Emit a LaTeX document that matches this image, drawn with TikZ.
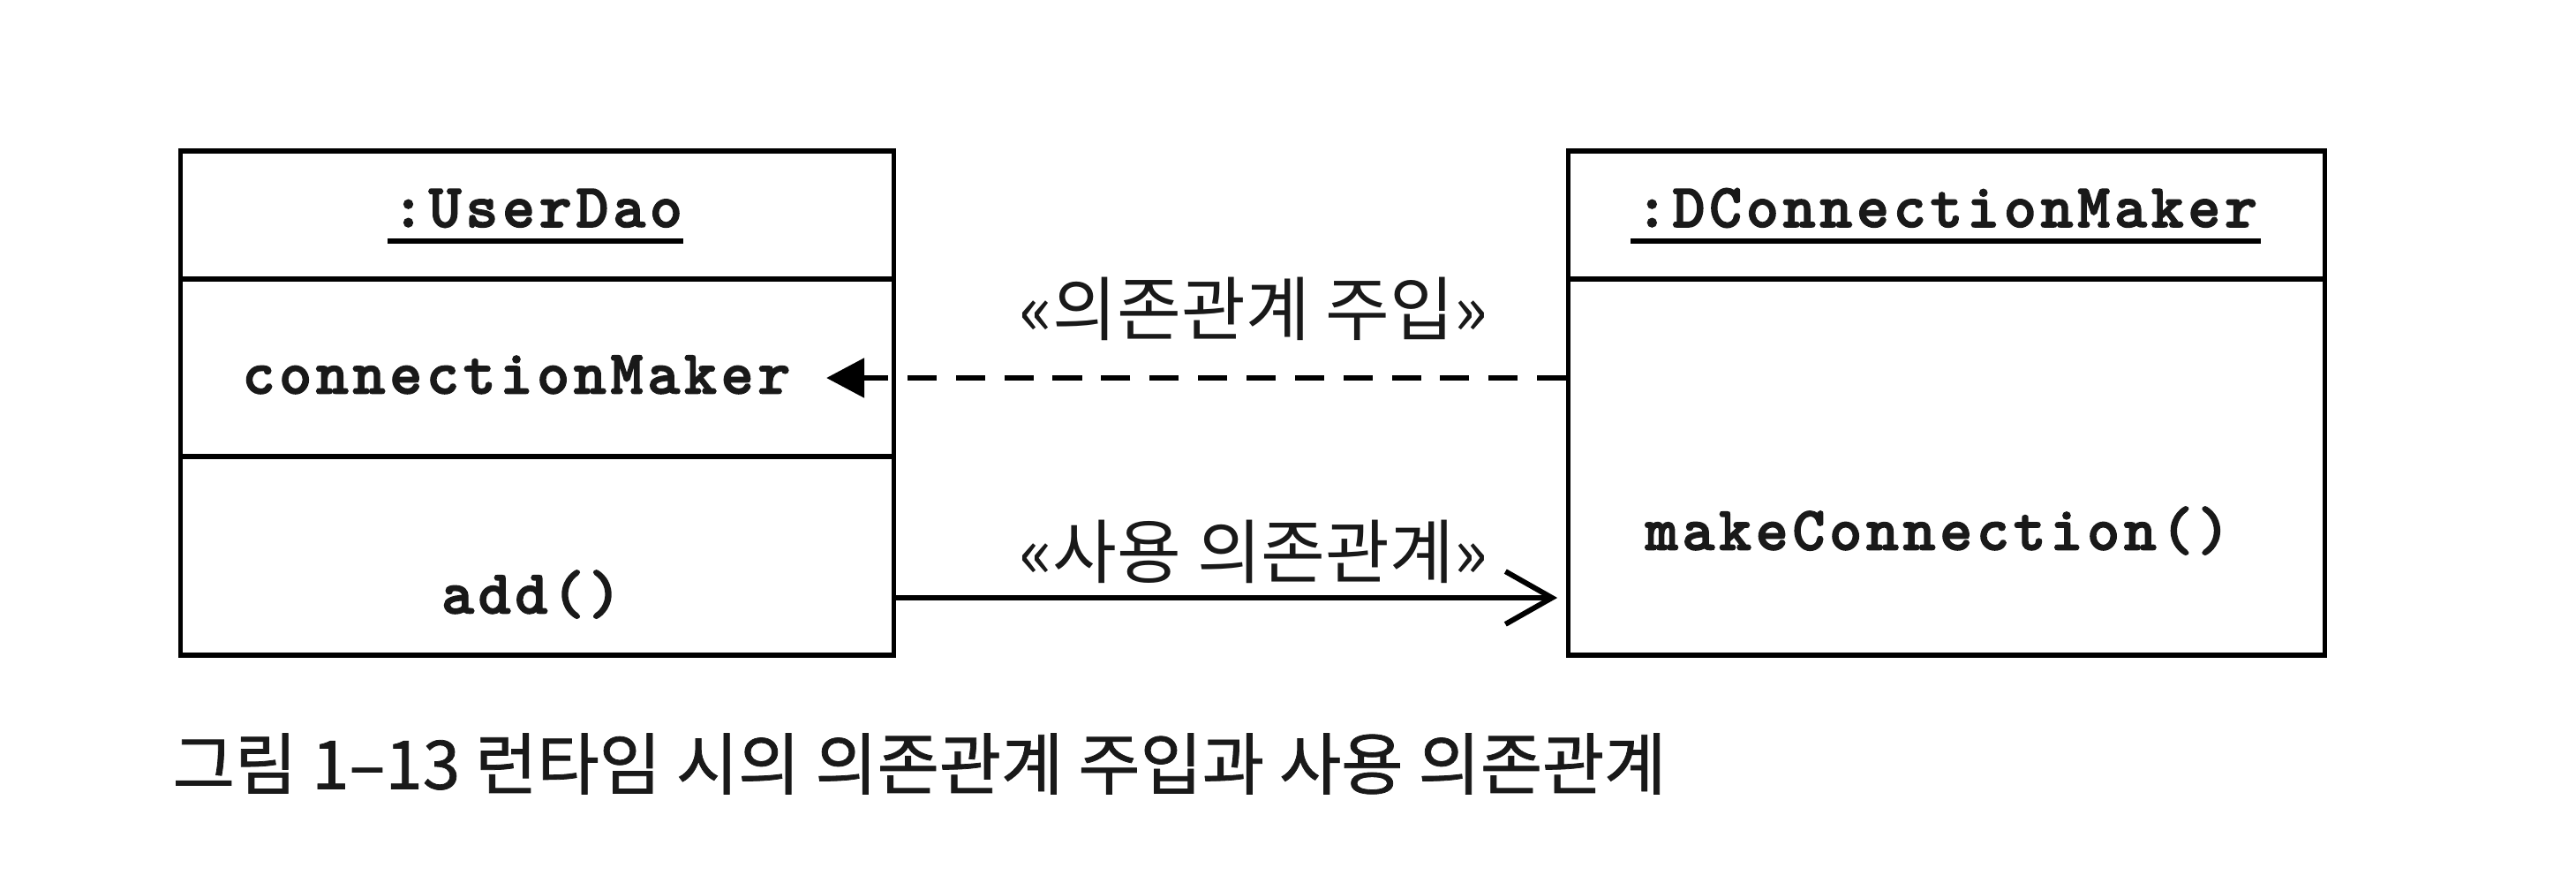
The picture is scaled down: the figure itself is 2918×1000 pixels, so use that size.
\documentclass[tikz,border=0pt]{standalone}
\usepackage{fontspec}
\newfontfamily\umlmono{lmmonolt10-bold.otf}[LetterSpace=6.8, FakeBold=2.2]
\newfontfamily\kofont{Noto Sans CJK KR}
\newfontfamily\capfont{Noto Sans CJK KR}[FakeBold=1.0]
\usetikzlibrary{arrows.meta}
\tikzset{
  compart/.style={draw=black, line width=1.5pt, inner sep=0pt},
  monotext/.style={inner sep=0pt, text=black!90, font=\umlmono\fontsize{20}{22}\selectfont, text height=12pt, text depth=2pt},
  kolabel/.style={inner sep=0pt, text=black!90, font=\kofont\fontsize{22.5}{26}\selectfont},
  captext/.style={inner sep=0pt, text=black!90, font=\capfont\fontsize{21.7}{26}\selectfont},
  uline/.style={line width=1.6pt},
  depline/.style={line width=1.6pt, dash pattern=on 9.4pt off 6.2pt, -{Triangle[length=12.2pt,width=12.5pt]}},
  useline/.style={line width=1.7pt, -{Straight Barb[length=15pt,width=17pt,line width=1.7pt]}, shorten >=0.1cm}
}
\begin{document}
\begin{tikzpicture}[x=0.01cm, y=-0.01cm]
\useasboundingbox[fill=white] (0,0) rectangle (2918,1000);
% left object box
\node[compart, minimum width=8.07cm, minimum height=1.45cm] (uTop) at (608.5,243.5) {};
\node[compart, minimum width=8.07cm, minimum height=2.01cm] (uMid) at (608.5,416.5) {};
\node[compart, minimum width=8.07cm, minimum height=2.25cm] (uBot) at (608.5,629.5) {};
% right object box
\node[compart, minimum width=8.56cm, minimum height=1.45cm] (dTop) at (2205,243.5) {};
\node[compart, minimum width=8.56cm, minimum height=4.26cm] (dBot) at (2205,529) {};
% texts
\node[monotext, anchor=base] (ut) at (608.5,257) {:UserDao};
\draw[uline] ([yshift=-0.16cm, xshift=-0.04cm]ut.base west) -- ([yshift=-0.16cm]ut.base east);
\node[monotext, anchor=base] (dt) at (2205,257) {:DConnectionMaker};
\draw[uline] ([yshift=-0.16cm, xshift=-0.05cm]dt.base west) -- ([yshift=-0.16cm, xshift=0.03cm]dt.base east);
\node[monotext] (cm) at (585,428) {connectionMaker};
\node[monotext] (add) at (602,677) {add()};
\node[monotext] (mc) at (2195,605) {makeConnection()};
% connectors
\draw[depline] (cm -| dBot.west) -- ([xshift=0.4cm]cm.east);
\draw[useline] (add -| uBot.east) -- (add -| dBot.west);
\node[kolabel] (l1) at (1420,350) {«의존관계 주입»};
\node[kolabel] (l2) at (1420,625) {«사용 의존관계»};
% caption
\node[captext, anchor=west] (cap) at (195,865) {그림 1–13 런타임 시의 의존관계 주입과 사용 의존관계};
\end{tikzpicture}
\end{document}
